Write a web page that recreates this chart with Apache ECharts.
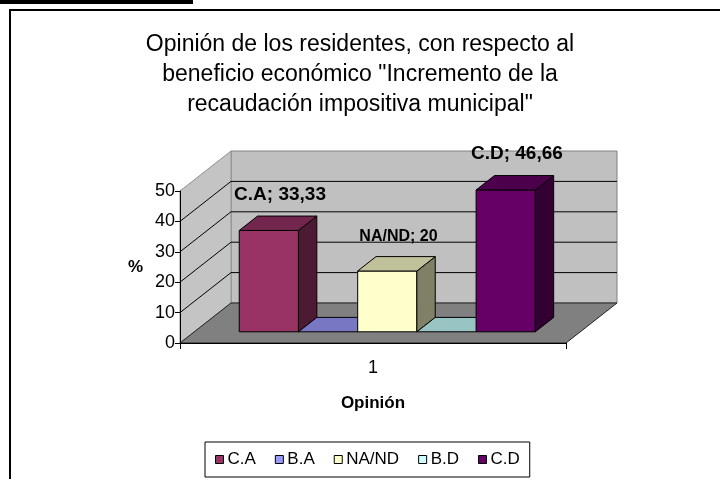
<!DOCTYPE html>
<html>
<head>
<meta charset="utf-8">
<script src="https://cdn.jsdelivr.net/npm/echarts@6/dist/echarts.min.js"></script>
<style>
html, body { margin: 0; padding: 0; background: #fff; }
#main { width: 720px; height: 479px; }
</style>
</head>
<body>
<div id="main"></div>
<script>
// data
var categories = ['1'];
var seriesNames = ['C.A', 'B.A', 'NA/ND', 'B.D', 'C.D'];
var seriesValues = [33.33, 0, 20, 0, 46.66];
var yTicks = [0, 10, 20, 30, 40, 50];
var titleText = 'Opinión de los residentes, con respecto al\nbeneficio económico "Incremento de la\nrecaudación impositiva municipal"';
var xName = 'Opinión';
var yName = '%';

// styles
var frontColors = ['#993366', '#9999ff', '#ffffcc', '#ccffff', '#660066'];
var topColors = ['#73264d', '#7777c4', '#c0c09a', '#99c4c4', '#4c004c'];
var sideColors = ['#4d1a33', '#4d4d80', '#808066', '#668080', '#330033'];
var labelSizes = [19, 16, 16, 16, 19];
var FONT = '"Liberation Sans", Arial, sans-serif';

// 3d look: depth of the floor in px, and where the bars sit in it
var DX = 51, DY = -40;
var FRONT = 0.28, BACK = 0.64;
var GROUP = 0.767;

var chart = echarts.init(document.getElementById('main'));

function renderWalls(params, api) {
  var c0 = api.coord([0, yTicks[0]]);
  var bw = api.size([1, 0])[0];
  var x0 = c0[0] - bw / 2, x1 = c0[0] + bw / 2;
  var yb = c0[1];
  var yt = api.coord([0, yTicks[yTicks.length - 1]])[1];
  var kids = [];
  kids.push({ type: 'polygon', shape: { points: [[x0 + DX, yb + DY], [x1 + DX, yb + DY], [x1 + DX, yt + DY], [x0 + DX, yt + DY]] },
    style: { fill: '#c0c0c0', stroke: '#808080', lineWidth: 1 } });
  kids.push({ type: 'polygon', shape: { points: [[x0, yb], [x0, yt], [x0 + DX, yt + DY], [x0 + DX, yb + DY]] },
    style: { fill: '#c4c4c4', stroke: '#909090', lineWidth: 1 } });
  kids.push({ type: 'polygon', shape: { points: [[x0, yb], [x1, yb], [x1 + DX, yb + DY], [x0 + DX, yb + DY]] },
    style: { fill: '#808080', stroke: '#222', lineWidth: 1 } });
  for (var i = 1; i < yTicks.length - 1; i++) {
    var y = api.coord([0, yTicks[i]])[1];
    kids.push({ type: 'line', shape: { x1: x0 + DX, y1: y + DY, x2: x1 + DX, y2: y + DY }, style: { stroke: '#000', lineWidth: 1 } });
    kids.push({ type: 'line', shape: { x1: x0, y1: y, x2: x0 + DX, y2: y + DY }, style: { stroke: '#000', lineWidth: 1 } });
  }
  return { type: 'group', children: kids };
}

function makeBarRender(i) {
  return function (params, api) {
    var c0 = api.coord([api.value(0), 0]);
    var cv = api.coord([api.value(0), api.value(1)]);
    var bw = api.size([1, 0])[0];
    var w = bw * GROUP / seriesNames.length;
    var L = c0[0] - bw * GROUP / 2 + i * w;
    var fx = DX * FRONT, fy = DY * FRONT, bx = DX * BACK, by = DY * BACK;
    var y0 = c0[1], yv = cv[1];
    var st = { stroke: '#000', lineWidth: 1, lineJoin: 'round' };
    var kids = [];
    if (api.value(1) > 0) {
      kids.push({ type: 'polygon', shape: { points: [[L + fx, yv + fy], [L + w + fx, yv + fy], [L + w + fx, y0 + fy], [L + fx, y0 + fy]] },
        style: Object.assign({ fill: frontColors[i] }, st) });
      kids.push({ type: 'polygon', shape: { points: [[L + w + fx, yv + fy], [L + w + bx, yv + by], [L + w + bx, y0 + by], [L + w + fx, y0 + fy]] },
        style: Object.assign({ fill: sideColors[i] }, st) });
    }
    kids.push({ type: 'polygon', shape: { points: [[L + fx, yv + fy], [L + w + fx, yv + fy], [L + w + bx, yv + by], [L + bx, yv + by]] },
      style: Object.assign({ fill: topColors[i] }, st) });
    if (api.value(1) > 0) {
      kids.push({ type: 'text', style: {
        text: seriesNames[i] + '; ' + String(api.value(1)).replace('.', ','),
        x: L + w / 2 + (fx + bx) / 2 + 2, y: yv + by - 12,
        align: 'center', verticalAlign: 'bottom',
        fontSize: labelSizes[i], fontWeight: 'bold', fontFamily: FONT, fill: '#000'
      } });
    }
    return { type: 'group', children: kids };
  };
}

var series = [{
  type: 'custom', name: '_walls', z: 1, silent: true,
  renderItem: renderWalls, data: [[0, yTicks[yTicks.length - 1]]]
}];
seriesNames.forEach(function (name, i) {
  series.push({
    type: 'custom', name: name, z: 3,
    itemStyle: { color: frontColors[i] },
    renderItem: makeBarRender(i),
    data: [[0, seriesValues[i]]]
  });
});

chart.setOption({
  animation: false,
  backgroundColor: '#fff',
  title: {
    text: titleText, left: 'center', top: 30, padding: [0, 16, 0, 0],
    textStyle: { fontFamily: FONT, fontSize: 23, fontWeight: 'normal', lineHeight: 30, color: '#000' }
  },
  grid: { left: 180, top: 191, width: 386, height: 152, outerBoundsMode: 'none' },
  xAxis: {
    type: 'category', data: categories, z: 10,
    name: xName, nameLocation: 'middle', nameGap: 52,
    nameTextStyle: { fontFamily: FONT, fontSize: 17, fontWeight: 'bold', color: '#000' },
    axisLine: { lineStyle: { color: '#000', width: 1 } },
    axisTick: { show: true, length: 6, lineStyle: { color: '#000' } },
    axisLabel: { fontFamily: FONT, fontSize: 18, color: '#000', margin: 16 },
    splitLine: { show: false }
  },
  yAxis: {
    type: 'value', min: 0, max: 50, interval: 10, z: 10,
    name: yName, nameLocation: 'middle', nameRotate: 0, nameGap: 37,
    nameTextStyle: { fontFamily: FONT, fontSize: 17, fontWeight: 'bold', color: '#000', padding: [7, 0, 0, 0] },
    axisLine: { show: true, lineStyle: { color: '#000', width: 1 } },
    axisTick: { show: true, length: 5, lineStyle: { color: '#000' } },
    axisLabel: { fontFamily: FONT, fontSize: 18, color: '#000', margin: 5 },
    splitLine: { show: false }
  },
  legend: {
    data: seriesNames, left: 205, top: 442, orient: 'horizontal',
    padding: [9, 10], borderColor: '#000', borderWidth: 1,
    itemWidth: 8, itemHeight: 8, itemGap: 19, icon: 'rect',
    itemStyle: { borderColor: '#000', borderWidth: 1 },
    textStyle: { fontFamily: FONT, fontSize: 17, color: '#000', padding: [0, 0, 0, -1] }
  },
  graphic: [
    { type: 'rect', shape: { x: 0, y: 0, width: 193, height: 4 }, style: { fill: '#000' } },
    { type: 'polyline', shape: { points: [[10, 479], [10, 10], [720, 10]] }, style: { stroke: '#000', lineWidth: 2, fill: null } }
  ],
  series: series
});
</script>
</body>
</html>
